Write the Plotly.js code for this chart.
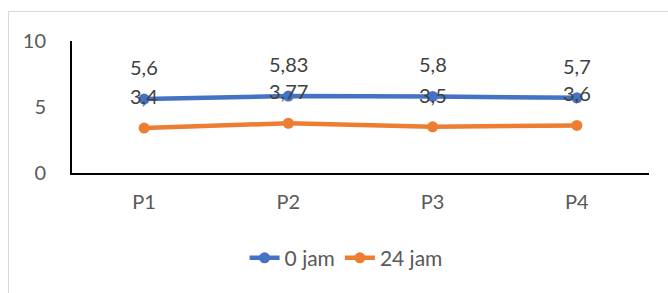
<!DOCTYPE html>
<html>
<head>
<meta charset="utf-8">
<script src="https://cdn.plot.ly/plotly-3.0.1.min.js"></script>
<style>
html,body{margin:0;padding:0;background:#fff;}
#wrap{position:relative;width:668px;height:293px;}
#chart{width:668px;height:293px;}
#frame{position:absolute;left:8px;top:11px;width:680px;height:290px;border-top:1px solid #d9d9d9;border-left:1px solid #d9d9d9;pointer-events:none;}
</style>
</head>
<body>
<div id="wrap"><div id="chart"></div><div id="frame"></div></div>
<script>
const categories = ["P1", "P2", "P3", "P4"];
const series0Name = "0 jam";
const series0 = [5.6, 5.83, 5.8, 5.7];
const series24Name = "24 jam";
const series24 = [3.4, 3.77, 3.5, 3.6];
const yTicks = [0, 5, 10];

const fmt = v => String(v).replace('.', ',');
const FONT = 'Lato, "Open Sans", sans-serif';

const traces = [
  {x: categories, y: series0, name: series0Name, type: 'scatter', mode: 'lines+markers',
   line: {color: '#4472C4', width: 4.5}, marker: {color: '#4472C4', size: 11}},
  {x: categories, y: series24, name: series24Name, type: 'scatter', mode: 'lines+markers',
   line: {color: '#ED7D31', width: 4.5}, marker: {color: '#ED7D31', size: 11}}
];

const annotations = [];
[series0, series24].forEach(s => {
  s.forEach((v, i) => {
    annotations.push({x: categories[i], y: v, xref: 'x', yref: 'y', text: fmt(v),
      showarrow: false, yshift: 32, yanchor: 'middle', xanchor: 'center',
      font: {family: FONT, size: 20, color: '#404040'}});
  });
});

const layout = {
  width: 668, height: 293,
  margin: {l: 72, r: 19, t: 41, b: 120, pad: 0},
  paper_bgcolor: '#fff', plot_bgcolor: '#fff',
  font: {family: FONT, size: 20, color: '#595959'},
  showlegend: true,
  legend: {orientation: 'h', x: 0.475, xanchor: 'center', y: -0.645, yanchor: 'middle',
    font: {family: FONT, size: 21, color: '#595959'}, itemwidth: 30},
  xaxis: {type: 'category', range: [-0.5, 3.5], showgrid: false, zeroline: false,
    showline: true, linecolor: '#000', linewidth: 2, ticks: '', ticklabelstandoff: 10,
    tickfont: {family: FONT, size: 20, color: '#595959'}, fixedrange: true},
  yaxis: {range: [0, 10], tickvals: yTicks, ticktext: yTicks.map(String), showgrid: false,
    zeroline: false, showline: true, linecolor: '#000', linewidth: 2, ticks: '',
    ticklabelstandoff: 20, tickfont: {family: FONT, size: 20, color: '#595959'}, fixedrange: true},
  annotations: annotations
};

Plotly.newPlot('chart', traces, layout, {displayModeBar: false, staticPlot: true});
</script>
</body>
</html>
